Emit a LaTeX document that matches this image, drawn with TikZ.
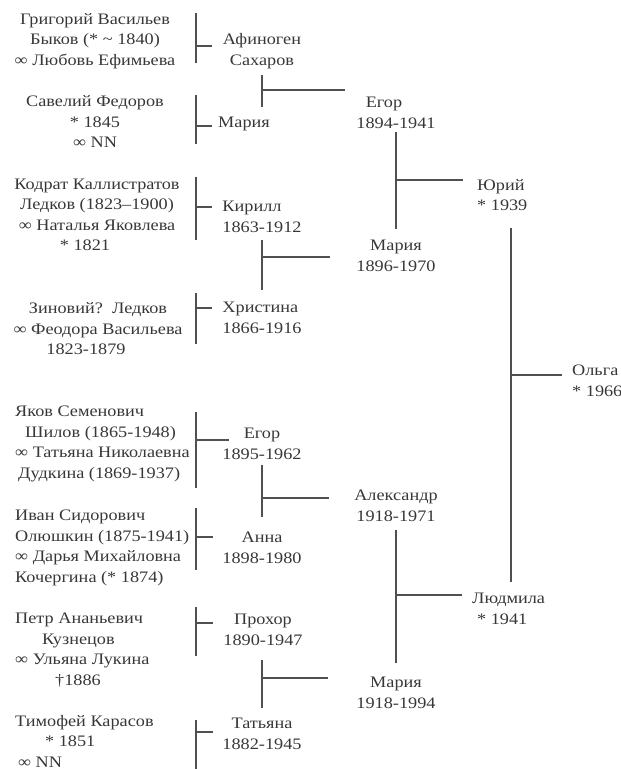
\documentclass[tikz,border=0pt]{standalone}
\usepackage{fontspec}
\setmainfont{Liberation Serif}[FakeStretch=1.14]

\definecolor{ink}{RGB}{55 55 55}
\definecolor{rule}{RGB}{80 80 80}

\tikzset{
	person/.style={inner sep=0pt, text=ink, align=center, font=\fontsize{16}{20.5}\selectfont},
	leftperson/.style={person, align=left},
	link/.style={draw=rule, line width=1.2pt}
}

\begin{document}
\begin{tikzpicture}[x=1pt, y=-1pt]

	% \famline#parents#top#length#child#tick y#tick length
	\def\famline#1#2#3#4#5#6{
		\draw[link] (#1 -| bx) ++(0, #2) -- ++(0, #3) (#4 -| bx) ++(0, #5) -- ++(#6, 0);
	}

	% \pairline#upper#dx#top#length#join#arm
	\def\pairline#1#2#3#4#5#6{
		\draw[link] (#1) ++(#2, #3) -- ++(0, #4) (#1) ++(#2, #5) -- ++(#6, 0);
	}

	\useasboundingbox (0, 0) rectangle (621, 769);
	\coordinate (bx) at (196, 0);

	% great-grandparents
	\node[person] (a1) at (95, 41) {Григорий Васильев\\Быков (* \textasciitilde{} 1840)\\∞ Любовь Ефимьева};
	\node[person] (a2) at (95, 122) {Савелий Федоров\\* 1845\\∞ NN};
	\node[person] (a3) at (97, 215) {Кодрат Каллистратов\\Ледков (1823–1900)\\∞ Наталья Яковлева\\\hspace*{-24pt}* 1821};
	\node[person] (a4) at (98, 329) {Зиновий?\ \ Ледков\\∞ Феодора Васильева\\\hspace*{-24pt}1823-1879};
	\node[leftperson, anchor=west] (a5) at (15, 444) {Яков Семенович\\\hspace*{10pt}Шилов (1865-1948)\\∞ Татьяна Николаевна\\\hspace*{3pt}Дудкина (1869-1937)};
	\node[leftperson, anchor=west] (a6) at (15, 548) {Иван Сидорович\\Олюшкин (1875-1941)\\∞ Дарья Михайловна\\Кочергина (* 1874)};
	\node[leftperson, anchor=west] (a7) at (15, 650) {Петр Ананьевич\\\hspace*{27pt}Кузнецов\\∞ Ульяна Лукина\\\hspace*{40pt}†1886};
	\node[leftperson, anchor=west] (a8) at (15, 741) {Тимофей Карасов\\\hspace*{30pt}* 1851\\\hspace*{3pt}∞ NN};

	% grandparents' parents
	\node[person] (b1) at (262, 51) {Афиноген\\Сахаров};
	\node[person] (b2) at (244, 124) {Мария};
	\node[leftperson] (b3) at (262, 217) {Кирилл\\1863-1912};
	\node[leftperson] (b4) at (262, 318) {Христина\\1866-1916};
	\node[person] (b5) at (262, 444) {Егор\\1895-1962};
	\node[person] (b6) at (262, 548) {Анна\\1898-1980};
	\node[person] (b7) at (263, 630) {Прохор\\1890-1947};
	\node[person] (b8) at (262, 734) {Татьяна\\1882-1945};

	% grandparents
	\node[person] (c1) at (396, 113) {\hspace*{-24pt}Егор\\1894-1941};
	\node[person] (c2) at (396, 256) {Мария\\1896-1970};
	\node[person] (c3) at (396, 506) {Александр\\1918-1971};
	\node[person] (c4) at (396, 693) {Мария\\1918-1994};

	% parents
	\node[leftperson, anchor=west] (d1) at (477, 195) {Юрий\\* 1939};
	\node[leftperson, anchor=west] (d2) at (472, 609) {Людмила\\\hspace*{5pt}* 1941};

	% child
	\node[leftperson, anchor=west] (e1) at (572, 381) {Ольга\\* 1966};

	% bars and ticks
	\famline{a1.center}{-28}{50}{b1.center}{-5}{16}
	\famline{a2.center}{-27}{49}{b2.center}{2}{16}
	\famline{a3.center}{-38}{63}{b3.center}{-10}{16}
	\famline{a4.center}{-36}{51}{b4.center}{-10}{16}
	\famline{a5.west}{-32}{76}{b5.center}{-4}{33}
	\famline{a6.west}{-40}{62}{b6.center}{-11}{17}
	\famline{a7.west}{-43}{49}{b7.center}{-7}{17}
	\famline{a8.west}{-21}{49}{b8.center}{-2}{17}

	% couples
	\pairline{b1.center}{0}{24}{32}{39}{83}
	\pairline{b3.center}{0}{23}{50}{40}{68}
	\pairline{b5.center}{0}{21}{52}{54}{67}
	\pairline{b7.center}{-1}{30}{48}{48}{66}
	\pairline{c1.center}{0}{19}{97}{67}{67}
	\pairline{c3.center}{0}{24}{133}{89}{66}
	\pairline{d1.west}{34}{33}{354}{180}{51}
\end{tikzpicture}
\end{document}
